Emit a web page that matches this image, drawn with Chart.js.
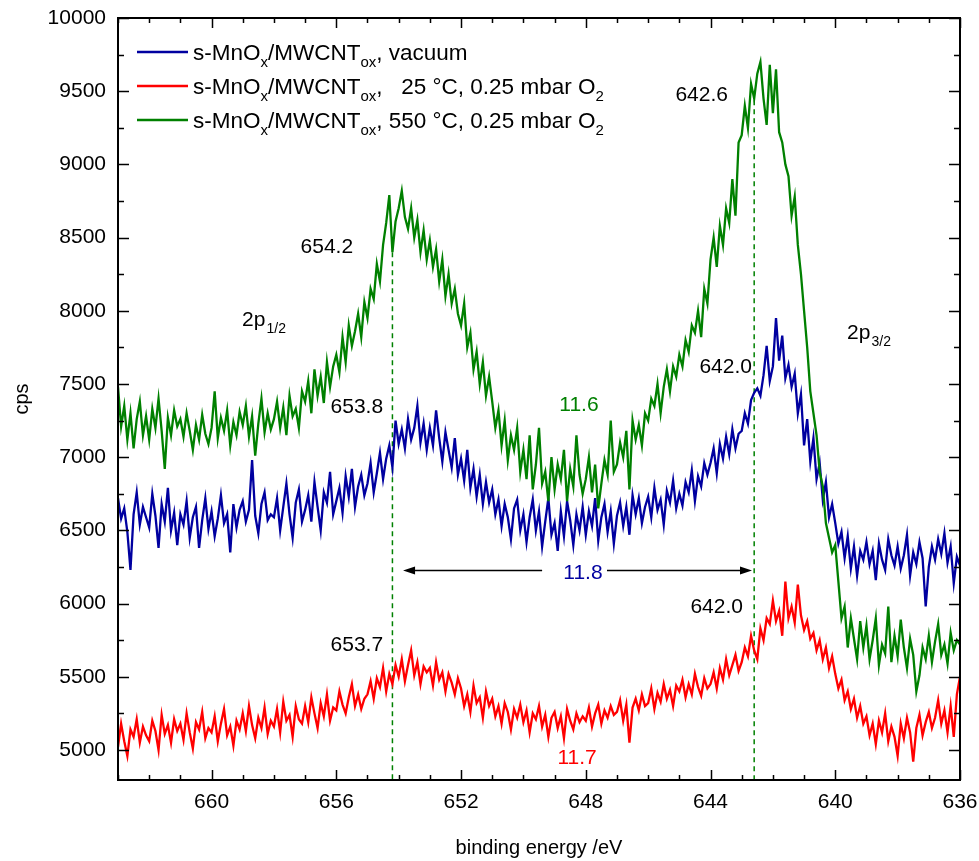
<!DOCTYPE html>
<html lang="en">
<head>
<meta charset="UTF-8">
<title>Mn 2p XPS</title>
<script src="https://cdn.jsdelivr.net/npm/chart.js"></script>
<style>
  body { margin: 0; background: #fff; }
  canvas { display: block; }
</style>
<script>
// binding energy grid: 663.0 eV down to 636.0 eV in 0.1 eV steps
const eStart = 663.0;
const eStep = 0.1;

const xMajorTicks = [660, 656, 652, 648, 644, 640, 636];
const yMajorTicks = [5000, 5500, 6000, 6500, 7000, 7500, 8000, 8500, 9000, 9500, 10000];

const seriesNames = [
  [['s-MnO'], ['x', 1], ['/MWCNT'], ['ox', 1], [', vacuum']],
  [['s-MnO'], ['x', 1], ['/MWCNT'], ['ox', 1], [',   25 \u00b0C, 0.25 mbar O'], ['2', 1]],
  [['s-MnO'], ['x', 1], ['/MWCNT'], ['ox', 1], [', 550 \u00b0C, 0.25 mbar O'], ['2', 1]]
];

// one row = 1 eV (10 points), left to right
const vacuumCps = [
  6720, 6580, 6650, 6490, 6230, 6610, 6760, 6540, 6660, 6590,
  6520, 6750, 6600, 6380, 6680, 6560, 6790, 6500, 6620, 6400,
  6610, 6540, 6700, 6450, 6590, 6660, 6380, 6570, 6720, 6510,
  6630, 6460, 6580, 6740, 6550, 6610, 6350, 6680, 6520, 6640,
  6700, 6560, 6640, 6980, 6600, 6480, 6680, 6760, 6570, 6610,
  6590, 6720, 6500, 6660, 6820, 6610, 6450, 6690, 6780, 6560,
  6640, 6740, 6560, 6830, 6660, 6500, 6760, 6690, 6900, 6610,
  6700, 6790, 6620, 6870, 6730, 6920, 6660, 6800, 6880, 6740,
  6820, 6960, 6760, 6890, 7030, 6850, 6990, 7080, 6930, 7250,
  7090, 7190, 7060, 7260, 7120, 7200, 7350, 7100, 7230, 7050,
  7200, 7080, 7320, 7130, 6970, 7170, 7050, 6930, 7130, 6880,
  6990, 6840, 7050, 6790, 6920, 6730, 6880, 6680, 6830, 6690,
  6780, 6610, 6710, 6530, 6680, 6590, 6440, 6650, 6710, 6500,
  6610, 6420, 6590, 6710, 6500, 6630, 6390, 6560, 6720, 6470,
  6550, 6360, 6630, 6460, 6700, 6570, 6400, 6610, 6500, 6660,
  6470, 6630, 6530, 6720, 6430, 6590, 6680, 6490, 6630, 6410,
  6600, 6690, 6530, 6660, 6470, 6740, 6610, 6720, 6550, 6660,
  6730, 6590, 6790, 6640, 6710, 6540, 6770, 6690, 6840, 6650,
  6750, 6670, 6830, 6760, 6910, 6700, 6870, 6800, 6960, 6880,
  6960, 7060, 6890, 7090, 6990, 7140, 7020, 7190, 7060, 7160,
  7180, 7300, 7230, 7390, 7440, 7470, 7420, 7560, 7760, 7520,
  7620, 7950, 7660, 7830, 7540, 7630, 7480, 7570, 7300, 7430,
  7080, 7260, 6970, 7130, 6850, 6960, 6710, 6830, 6590, 6680,
  6550, 6410, 6490, 6310, 6460, 6240, 6390, 6190, 6360, 6300,
  6420, 6270, 6360, 6160, 6410, 6300, 6230, 6440, 6330, 6260,
  6390, 6240, 6330, 6470, 6190, 6350, 6270, 6420, 6310, 5980,
  6250, 6390, 6300, 6440, 6340, 6480, 6280, 6390, 6140, 6320,
  6260
];

const roomTempCps = [
  5020, 5180, 5060, 4960, 5140, 5090, 5210, 5050, 5160, 5100,
  5060, 5200, 5130, 5000, 5240, 5110, 5170, 5050, 5210, 5130,
  5180, 5070, 5250, 5120, 5010, 5190, 5140, 5260, 5080, 5150,
  5120, 5230, 5060, 5180, 5280, 5100, 5160, 5030, 5200, 5140,
  5250, 5130, 5300, 5170, 5080, 5220, 5150, 5290, 5110, 5200,
  5160, 5280, 5120, 5330, 5200, 5240, 5090, 5300, 5210, 5180,
  5300, 5190, 5360, 5250, 5150, 5320, 5230, 5380, 5200, 5290,
  5270, 5400, 5310, 5250, 5360, 5450, 5300, 5380, 5280, 5350,
  5380, 5470, 5350, 5490, 5430, 5560, 5400, 5520, 5450, 5580,
  5500, 5620, 5470, 5580, 5680, 5510, 5600, 5450, 5570, 5530,
  5560, 5440, 5600, 5480, 5530, 5400, 5520, 5460, 5380, 5490,
  5420, 5300, 5380, 5260, 5440, 5320, 5360, 5220, 5400, 5300,
  5350, 5230, 5300, 5180, 5320, 5260, 5140, 5280, 5220, 5310,
  5190, 5270, 5120, 5250, 5210, 5300, 5160, 5240, 5090, 5220,
  5260, 5150, 5230, 5080, 5280, 5200, 5140, 5250, 5190, 5230,
  5200, 5290, 5160, 5250, 5310, 5180, 5270, 5220, 5300, 5240,
  5260, 5340, 5200, 5310, 5050, 5290, 5350, 5270, 5380, 5300,
  5320, 5420, 5280, 5390, 5330, 5450, 5350, 5410, 5300, 5440,
  5400, 5480, 5360, 5450, 5380, 5520, 5430, 5370, 5490, 5420,
  5450, 5530, 5420, 5560, 5480, 5620, 5510, 5580, 5650, 5540,
  5600, 5700, 5640, 5780, 5680, 5620, 5830, 5750, 5900, 5860,
  6020, 5880, 5950, 5780, 6150, 5900, 5980, 5870, 6130, 5920,
  5820, 5880, 5760, 5800, 5680, 5750, 5620, 5700, 5560, 5640,
  5520, 5420, 5480, 5340, 5400, 5280, 5350, 5220, 5300, 5180,
  5230, 5100, 5180, 5040, 5200, 5120, 5250, 5060, 5160, 5090,
  4960, 5180, 5080, 5220, 5120, 4920, 5150, 5240, 5100, 5190,
  5260, 5150, 5220, 5340, 5180, 5270, 5120, 5300, 5090, 5380,
  5500
];

const hotCps = [
  7480, 7210, 7350, 7120, 7300, 7060, 7260, 7380, 7150, 7280,
  7120, 7330, 7200, 7400, 7180, 6920, 7270, 7150, 7320, 7210,
  7260, 7140, 7300, 7180, 7050, 7220, 7120, 7290, 7160, 7090,
  7200, 7450, 7130, 7270, 7180, 7320, 7080, 7240, 7150, 7310,
  7220, 7350, 7140, 7280, 7010, 7230, 7400, 7170, 7300, 7190,
  7260, 7380, 7200, 7340, 7150, 7420, 7280, 7330, 7200, 7450,
  7380, 7520, 7300, 7600, 7420, 7550, 7370, 7650, 7480, 7620,
  7700, 7580, 7820, 7650, 7900, 7760, 7860, 7980, 7820, 8060,
  7950, 8150, 8080, 8320, 8200, 8450, 8600, 8790, 8400, 8610,
  8700, 8820, 8640, 8560, 8700, 8500, 8620, 8400, 8550, 8350,
  8480, 8300, 8420, 8200, 8350, 8100, 8250, 8050, 8150, 7980,
  7900, 8050, 7750, 7850, 7600, 7720, 7500, 7650, 7420, 7550,
  7380, 7200, 7320, 7080, 7250, 6980, 7150, 7050, 7200, 6900,
  7050, 6850, 7150, 6780, 6950, 7200, 6820, 6900, 6700, 7000,
  6780, 6950, 6850, 7050, 6700, 6920, 6800, 7150, 6880, 6750,
  6850, 7000, 6760, 6950, 6650, 6820, 6980, 6880, 7250, 6900,
  6950, 7100, 7000, 7180, 6780, 7250, 7120, 7220, 7080, 7300,
  7250, 7400, 7350, 7500, 7300, 7480, 7600, 7450, 7620, 7550,
  7700, 7620, 7800, 7720, 7900, 7850, 8000, 7820, 8150, 8050,
  8350, 8500, 8300, 8580, 8450, 8700, 8600, 8900, 8650, 9150,
  9200, 9400, 9250, 9550, 9450, 9620, 9700, 9450, 9270, 9680,
  9350, 9650, 9220, 9150, 9000, 8920, 8650, 8780, 8450, 8250,
  8000, 7750, 7450, 7300, 7150, 6900, 6800, 6550, 6450, 6350,
  6400, 6150, 5900, 5980, 5700, 5900, 5760, 5620, 5880, 5700,
  5850, 5620, 5750, 5900, 5580, 5720, 5660, 5980, 5600, 5780,
  5640, 5890, 5700, 5560, 5760, 5650, 5400, 5510, 5700, 5620,
  5780, 5600, 5740, 5860, 5650, 5720, 5590, 5800, 5680, 5750,
  5720
];

// peak positions (eV) with the cps where their dashed marker starts
const peakLines = [{ e: 654.2, top: 8400 }, { e: 642.6, top: 9500 }];

// text labels placed in data coordinates
const peakLabels = [
  { text: '654.2', e: 655.46, cps: 8436, align: 'right' },
  { text: '653.8', e: 654.50, cps: 7343, align: 'right' },
  { text: '653.7', e: 654.50, cps: 5717, align: 'right' },
  { text: '642.6', e: 643.44, cps: 9474, align: 'right' },
  { text: '642.0', e: 642.67, cps: 7616, align: 'right' },
  { text: '642.0', e: 642.96, cps: 5977, align: 'right' },
  { text: '11.6', e: 648.22, cps: 7356, align: 'center', color: '#008000' },
  { text: '11.8', e: 648.09, cps: 6209, align: 'center', color: '#0000a0' },
  { text: '11.7', e: 648.28, cps: 4945, align: 'center', color: '#ff0000' }
];
const splitArrow = { cps: 6229, from: 653.86, to: 642.67, gapFrom: 649.40, gapTo: 647.32 };
const levelLabels = [
  { main: '2p', sub: '1/2', e: 659.02, cps: 7937 },
  { main: '2p', sub: '3/2', e: 639.62, cps: 7848 }
];

const colors = ['#0000a0', '#ff0000', '#008000'];
const FONT = '"Liberation Sans", Arial, sans-serif';

function toPoints(values) {
  return values.map((v, i) => ({ x: +(eStart - i * eStep).toFixed(1), y: v }));
}

function richText(ctx, parts, x, y, size, subSize) {
  let cx = x;
  parts.forEach(p => {
    const isSub = p[1] === 1;
    ctx.font = (isSub ? subSize : size) + 'px ' + FONT;
    ctx.fillText(p[0], cx, isSub ? y + size * 0.3 : y);
    cx += ctx.measureText(p[0]).width;
  });
}

function arrowHead(ctx, x, y, dir) {
  ctx.beginPath();
  ctx.moveTo(x, y);
  ctx.lineTo(x - dir * 12, y - 4);
  ctx.lineTo(x - dir * 12, y + 4);
  ctx.closePath();
  ctx.fill();
}

const decor = {
  id: 'decor',
  beforeDatasetsDraw(chart) {
    const { ctx, chartArea: a, scales: { x, y } } = chart;
    ctx.save();
    ctx.strokeStyle = '#008000';
    ctx.lineWidth = 1.5;
    ctx.setLineDash([5, 4]);
    peakLines.forEach(p => {
      const px = x.getPixelForValue(p.e);
      ctx.beginPath();
      ctx.moveTo(px, y.getPixelForValue(p.top));
      ctx.lineTo(px, a.bottom);
      ctx.stroke();
    });
    ctx.restore();
  },
  afterDatasetsDraw(chart) {
    const { ctx, chartArea: a, scales: { x, y } } = chart;
    ctx.save();

    // frame and inward ticks
    ctx.strokeStyle = '#000';
    ctx.lineWidth = 2;
    ctx.strokeRect(a.left, a.top, a.right - a.left, a.bottom - a.top);
    ctx.lineWidth = 1.5;
    ctx.beginPath();
    for (let e = 636; e <= 663; e++) {
      const px = Math.round(x.getPixelForValue(e)) + 0.5;
      const len = e % 4 === 0 ? 10 : 5;
      ctx.moveTo(px, a.bottom); ctx.lineTo(px, a.bottom - len);
      ctx.moveTo(px, a.top); ctx.lineTo(px, a.top + len);
    }
    for (let v = 5000; v <= 10000; v += 250) {
      const py = Math.round(y.getPixelForValue(v)) + 0.5;
      const len = v % 500 === 0 ? 11 : 6;
      ctx.moveTo(a.left, py); ctx.lineTo(a.left + len, py);
      ctx.moveTo(a.right, py); ctx.lineTo(a.right - len, py);
    }
    ctx.stroke();

    // legend
    ctx.textBaseline = 'alphabetic';
    ctx.textAlign = 'left';
    seriesNames.forEach((parts, i) => {
      const ry = a.top + 34 + i * 34;
      ctx.strokeStyle = colors[i];
      ctx.lineWidth = 2.5;
      ctx.beginPath();
      ctx.moveTo(a.left + 19, ry);
      ctx.lineTo(a.left + 70, ry);
      ctx.stroke();
      ctx.fillStyle = '#000';
      richText(ctx, parts, a.left + 75, ry + 8, 22.5, 15);
    });

    // peak labels
    ctx.textBaseline = 'middle';
    ctx.font = '21px ' + FONT;
    peakLabels.forEach(l => {
      ctx.fillStyle = l.color || '#000';
      ctx.textAlign = l.align;
      ctx.fillText(l.text, x.getPixelForValue(l.e), y.getPixelForValue(l.cps));
    });

    // spin-orbit labels
    ctx.textAlign = 'left';
    ctx.fillStyle = '#000';
    levelLabels.forEach(l => {
      const px = x.getPixelForValue(l.e), py = y.getPixelForValue(l.cps);
      ctx.font = '21px ' + FONT;
      ctx.fillText(l.main, px, py);
      const w = ctx.measureText(l.main).width;
      ctx.font = '14px ' + FONT;
      ctx.fillText(l.sub, px + w + 1, py + 9);
    });

    // splitting arrow
    const ay = Math.round(y.getPixelForValue(splitArrow.cps)) + 0.5;
    const x1 = x.getPixelForValue(splitArrow.from), x2 = x.getPixelForValue(splitArrow.to);
    const g1 = x.getPixelForValue(splitArrow.gapFrom), g2 = x.getPixelForValue(splitArrow.gapTo);
    ctx.strokeStyle = '#000';
    ctx.fillStyle = '#000';
    ctx.lineWidth = 1.5;
    ctx.beginPath();
    ctx.moveTo(x1 + 8, ay); ctx.lineTo(g1, ay);
    ctx.moveTo(g2, ay); ctx.lineTo(x2 - 8, ay);
    ctx.stroke();
    arrowHead(ctx, x1, ay, -1);
    arrowHead(ctx, x2, ay, 1);

    // axis titles
    ctx.font = '20px ' + FONT;
    ctx.textAlign = 'center';
    ctx.textBaseline = 'middle';
    ctx.fillText('binding energy /eV', (a.left + a.right) / 2, 848);
    ctx.translate(22, (a.top + a.bottom) / 2);
    ctx.rotate(-Math.PI / 2);
    ctx.fillText('cps', 0, 0);
    ctx.restore();
  }
};

window.onload = function() {
  Chart.defaults.font.family = FONT;
  Chart.defaults.color = '#000';
  const ctx = document.getElementById('xpsChart').getContext('2d');
  new Chart(ctx, {
    type: 'line',
    data: {
      datasets: [
        { data: toPoints(vacuumCps), borderColor: colors[0], order: 1 },
        { data: toPoints(roomTempCps), borderColor: colors[1], order: 2 },
        { data: toPoints(hotCps), borderColor: colors[2], order: 0 }
      ]
    },
    options: {
      responsive: false,
      animation: false,
      devicePixelRatio: 1,
      layout: { padding: { top: 18, right: 19, left: 0, bottom: 0 } },
      elements: {
        point: { radius: 0 },
        line: { borderWidth: 2.3, tension: 0 }
      },
      plugins: { legend: { display: false }, tooltip: { enabled: false } },
      scales: {
        x: {
          type: 'linear',
          reverse: true,
          min: 636,
          max: 663,
          grid: { display: false, drawTicks: false },
          border: { display: false },
          ticks: { font: { size: 21 }, padding: 10, maxRotation: 0, autoSkip: false, callback: v => String(v) },
          afterBuildTicks: s => { s.ticks = xMajorTicks.map(v => ({ value: v })); },
          afterFit: s => { s.height = 81; s.paddingLeft = 0; s.paddingRight = 0; }
        },
        y: {
          min: 4795,
          max: 10000,
          grid: { display: false, drawTicks: false },
          border: { display: false },
          ticks: { font: { size: 21 }, padding: 12, autoSkip: false, callback: v => String(v) },
          afterBuildTicks: s => { s.ticks = yMajorTicks.map(v => ({ value: v })); },
          afterFit: s => { s.width = 118; s.paddingTop = 0; s.paddingBottom = 0; }
        }
      }
    },
    plugins: [decor]
  });
};
</script>
</head>
<body>
<canvas id="xpsChart" width="979" height="861"></canvas>
</body>
</html>
